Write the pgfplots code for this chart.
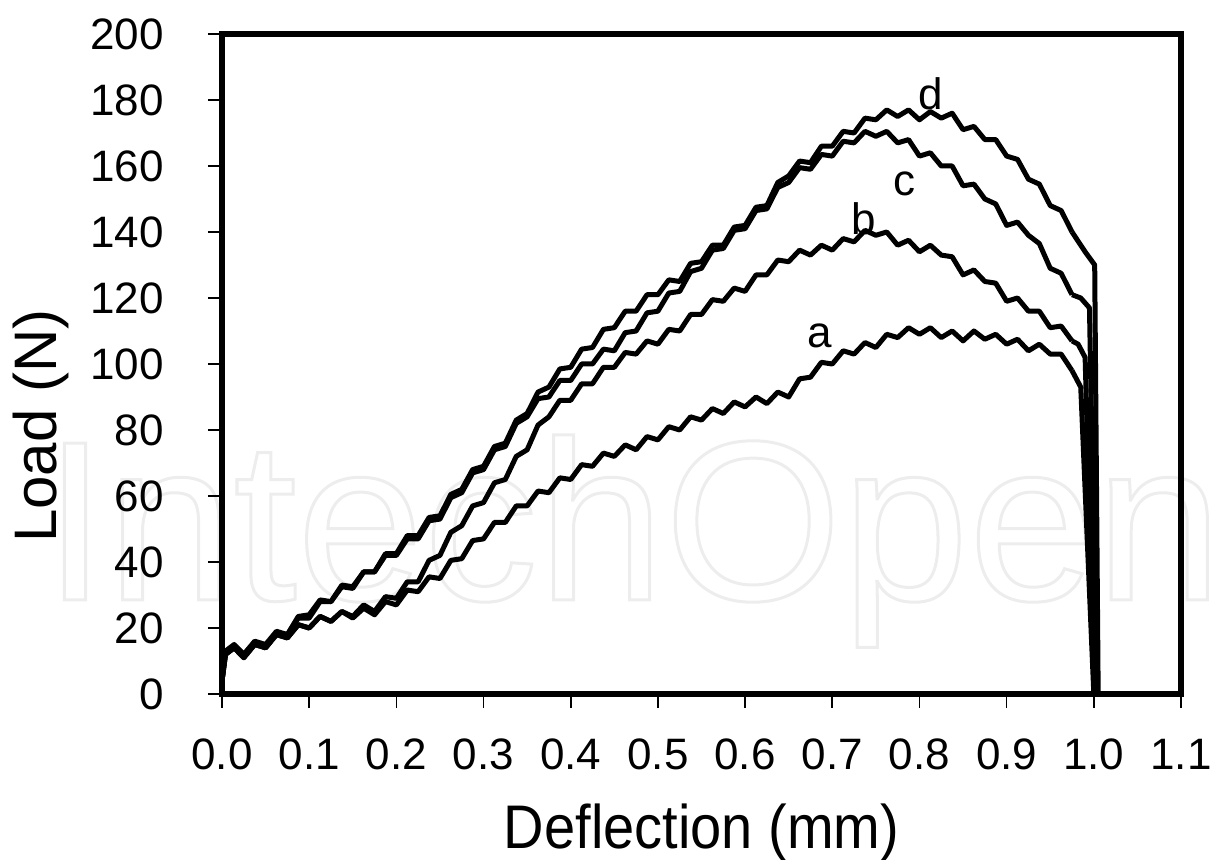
\documentclass[border=0pt]{standalone}
\usepackage{fontspec}
\setmainfont{Liberation Sans}
\usepackage{pgfplots}
\usepackage{pgfplotstable}
\pgfplotsset{compat=1.18}

\pgfplotstableread{
x a b c d
0.000 4 4 4 4
0.004 12 12 12 13
0.014 14 14 14.5 15
0.025 11 11 12 12
0.0375 15 15 15.5 16
0.050 14 14 14 15
0.0625 18 18 18.5 19
0.075 17 17 18 18
0.0875 21 21 23 23.5
0.100 20 20 23 24
0.1125 23.5 23.5 28 28.5
0.125 22 22 28 28
0.1375 25 25 32.5 33
0.150 23 23.5 32 32.5
0.1625 26 27 37 37
0.175 24 25 37 37
0.1875 28 29.5 42 42.5
0.200 27 29 42 42.5
0.2125 31.5 34 47 48
0.225 31 34 47 48
0.2375 35.5 40.5 52.5 53.5
0.250 35 42 53 54
0.2625 40.5 49 59.5 60.5
0.275 41 51 61 62
0.2875 46.5 57 67 68
0.300 47 58 68 69
0.3125 52 64 74 75
0.325 52 65 75 76
0.3375 57 72 82 83
0.350 57 74 84 85
0.3625 61.5 81.5 89.5 91.5
0.375 61 84 90 93
0.3875 65.5 89 95 98.5
0.400 65 89 95 99
0.4125 69.5 94 100 104.5
0.425 69 94 100 105
0.4375 73 99 104.5 110.5
0.450 72 99 104 111
0.4625 75.5 103.5 109.5 116
0.475 74 103 110 116
0.4875 78 107 115.5 121
0.500 77 106 116 121
0.5125 81 110.5 121.5 125.5
0.525 80 110 122 125
0.5375 84 115 128 130.5
0.550 83 115 129 131
0.5625 86.5 119.5 134.5 136
0.575 85 119 135 136
0.5875 88.5 123 140.5 141.5
0.600 87 122 141 142
0.6125 90 127 146.5 147.5
0.625 88 127 147 148
0.6375 91.5 131.5 153.5 155
0.650 90 131 155 157
0.6625 95.5 134.5 159.5 161.5
0.675 96 133 159 161
0.6875 100.5 136 163.5 166
0.700 100 134.5 163 166
0.7125 104 138 167.5 170.5
0.725 103 137 167 170
0.7375 106.5 140.5 170.5 174.5
0.750 105 139 169 174
0.7625 109 140 170.5 177
0.775 108 136 167 175
0.7875 111 137.5 168 177
0.800 109 134 163 174
0.8125 111 136 164 176.5
0.825 108 133 160 174.5
0.8375 110 132.5 160 176
0.850 107 127 154 171
0.8625 110 128.5 154.5 172
0.875 107.5 125 150 168
0.8875 109 124.5 148.5 168
0.900 106 119 142 163
0.9125 107.5 120 143 162
0.925 104 116 139 156
0.9375 106 116 136.5 154.5
0.950 103 111 129 148
0.9625 103 111.5 127.5 146.5
0.975 98 107 121 140
}\loadtable

\begin{document}
\begin{tikzpicture}
% faint watermark
\node[anchor=base west, inner sep=0pt, text=black!7,
      font=\fontsize{114}{114}\selectfont] at (-89.5pt,47pt)
  {\special{pdf:literal direct 1 Tr 1.5 w}IntechOpen\special{pdf:literal direct 0 Tr}};
\begin{axis}[
  at={(0pt,0pt)}, anchor=south west,
  scale only axis, width=479.5pt, height=330pt,
  xmin=0, xmax=1.1, ymin=0, ymax=200,
  xtick={0,0.1,0.2,0.3,0.4,0.5,0.6,0.7,0.8,0.9,1.0,1.1},
  xticklabels={0.0,0.1,0.2,0.3,0.4,0.5,0.6,0.7,0.8,0.9,1.0,1.1},
  ytick={0,20,40,60,80,100,120,140,160,180,200},
  xtick pos=left, ytick pos=left,
  tick align=outside, major tick length=7pt,
  axis line style={line width=2.8pt},
  every tick/.style={line width=0.8pt, black},
  /pgf/number format/assume math mode=true,
  ticklabel style={font=\fontsize{22}{26}\selectfont, inner sep=0pt},
  xticklabel style={anchor=base, yshift=-31pt},
  yticklabel style={anchor=east, xshift=-22pt},
  xlabel={\scalebox{1}[1.1]{Deflection (mm)}}, ylabel={Load (N)},
  xlabel style={font=\fontsize{28}{34}\selectfont, inner sep=0pt,
    at={(axis description cs:0.5,-0.234)}, anchor=base},
  ylabel style={font=\fontsize{30}{34}\selectfont, inner sep=0pt,
    at={(axis description cs:-0.218,0.406)}, anchor=north},
]
\addplot[black, line width=2.5pt, line join=round] table[x=x,y=a]{\loadtable};
\addplot[black, line width=2.5pt, line join=round] coordinates {(0.975,98) (0.985,93) (1.0,0)};
\addplot[black, line width=2.5pt, line join=round] table[x=x,y=b]{\loadtable};
\addplot[black, line width=2.5pt, line join=round] coordinates {(0.975,107) (0.982,106) (0.99,102) (1.001,0)};
\addplot[black, line width=2.5pt, line join=round] table[x=x,y=c]{\loadtable};
\addplot[black, line width=2.5pt, line join=round] coordinates {(0.975,121) (0.985,120) (0.995,117) (1.003,0)};
\addplot[black, line width=2.5pt, line join=round] table[x=x,y=d]{\loadtable};
\addplot[black, line width=2.5pt, line join=round] coordinates {(0.975,140) (0.99,134) (1.001,130) (1.005,0)};
\node[font=\fontsize{22}{26}\selectfont, inner sep=0pt] at (axis cs:0.686,108.6) {a};
\node[font=\fontsize{22}{26}\selectfont, inner sep=0pt] at (axis cs:0.736,144) {b};
\node[font=\fontsize{22}{26}\selectfont, inner sep=0pt] at (axis cs:0.783,154.7) {c};
\node[font=\fontsize{22}{26}\selectfont, inner sep=0pt] at (axis cs:0.813,182) {d};
\end{axis}
\pgfresetboundingbox
\path[use as bounding box] (-111pt,-83pt) rectangle (496pt,347pt);
\end{tikzpicture}
\end{document}
